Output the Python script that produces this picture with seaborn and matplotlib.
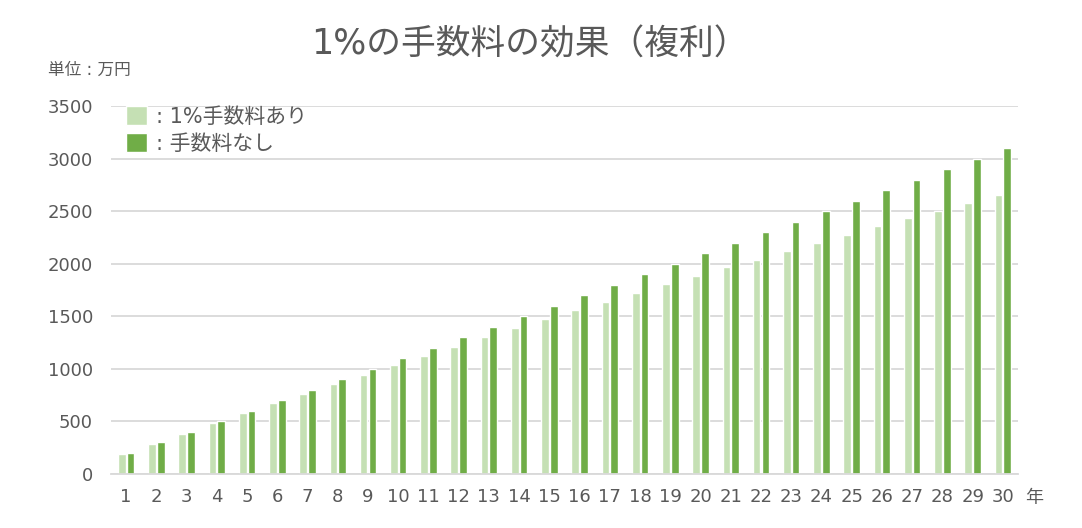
import numpy as np
import pandas as pd
import matplotlib
matplotlib.use("Agg")
import matplotlib.pyplot as plt
import seaborn as sns

years = list(range(1, 31))
with_fee = [190, 290, 385, 485, 580, 676, 762, 859, 945, 1041,
            1120, 1205, 1300, 1386, 1472, 1558, 1634, 1720, 1806, 1883,
            1969, 2040, 2117, 2193, 2276, 2355, 2432, 2500, 2575, 2652]
no_fee = [200, 300, 400, 500, 600, 700, 800, 900, 1000, 1100,
          1200, 1300, 1400, 1500, 1600, 1700, 1800, 1900, 2000, 2100,
          2200, 2300, 2400, 2500, 2600, 2700, 2800, 2900, 3000, 3100]
series_names = ["1%手数料あり", "手数料なし"]
yticks = [0, 500, 1000, 1500, 2000, 2500, 3000, 3500]
title = "1%の手数料の効果（複利）"
unit_label = "単位 : 万円"
x_unit = "年"

sns.set_theme(style="white")
plt.rcParams['font.family'] = ['DejaVu Sans', 'Noto Sans CJK JP']

text_col = "#595959"
grid_col = "#D9D9D9"
colors = ["#C5E0B4", "#70AD47"]

df = pd.DataFrame({"year": years * 2,
                   "value": with_fee + no_fee,
                   "series": [series_names[0]] * len(years) + [series_names[1]] * len(years)})

fig = plt.figure(figsize=(10.82, 5.28), dpi=100)
ax = fig.add_axes([111 / 1082, 54 / 528, 907 / 1082, 368 / 528])

sns.barplot(data=df, x="year", y="value", hue="series", hue_order=series_names,
            palette=colors, width=0.58, gap=0.12, ax=ax, saturation=1,
            errorbar=None, legend=True)

ax.set_ylim(0, 3500)
ax.set_xlim(-0.5, len(years) - 0.5)
ax.set_yticks(yticks)
ax.set_yticklabels([str(v) for v in yticks])
ax.yaxis.grid(True, color=grid_col, linewidth=1.3)
ax.set_axisbelow(True)
for s in ["top", "right", "left"]:
    ax.spines[s].set_visible(False)
ax.spines["bottom"].set_color(grid_col)
ax.spines["bottom"].set_linewidth(1.3)
ax.tick_params(axis="both", length=0, labelsize=13, colors=text_col)
ax.tick_params(axis="y", pad=13)
ax.tick_params(axis="x", pad=10)
ax.set_xlabel("")
ax.set_ylabel("")

handles, labels = ax.get_legend_handles_labels()
ax.legend(handles, [": " + l for l in labels], loc="upper left",
          bbox_to_anchor=(0.0, 1.04), frameon=False, fontsize=15,
          handlelength=1.05, handleheight=1.05, handletextpad=0.4,
          labelspacing=0.3, labelcolor=text_col, borderaxespad=0.3)

fig.text(530 / 1082, 1 - 45 / 528, title, ha="center", va="center",
         fontsize=25, color=text_col)
fig.text(48 / 1082, 1 - 70 / 528, unit_label, ha="left", va="center",
         fontsize=12, color=text_col)
ax.annotate(x_unit, xy=(1.0, 0), xycoords="axes fraction",
            xytext=(5, -17), textcoords="offset points",
            ha="left", va="center", fontsize=13, color=text_col)

fig.savefig("out.png", dpi=100, facecolor="white")
